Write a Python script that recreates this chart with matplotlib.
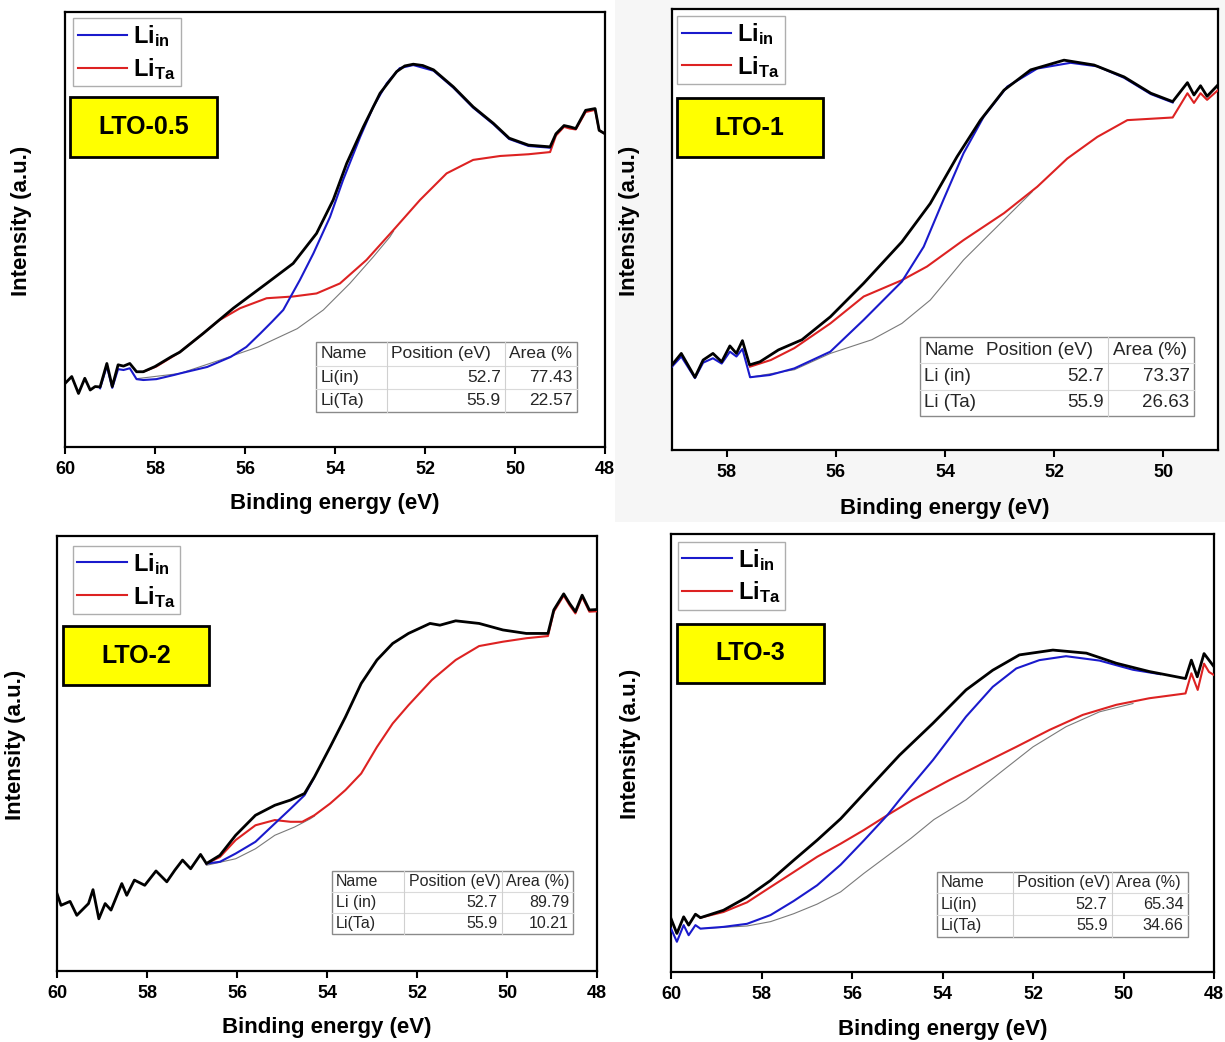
import matplotlib
matplotlib.use("Agg")
import matplotlib.pyplot as plt
from matplotlib.patches import Rectangle
from matplotlib.lines import Line2D

plt.rcParams['font.family'] = ['Liberation Sans', 'DejaVu Sans']
plt.rcParams['mathtext.fontset'] = 'custom'
plt.rcParams['mathtext.rm'] = 'Liberation Sans'
plt.rcParams['mathtext.bf'] = 'Liberation Sans:bold'
plt.rcParams['mathtext.it'] = 'Liberation Sans:italic'

# ---- LTO-0.5 ----
lto05_env_x = [60.00, 59.85, 59.70, 59.56, 59.44, 59.33, 59.22, 59.07, 58.95, 58.82, 58.70, 58.56, 58.41, 58.26,
               58.00, 57.63, 57.45, 56.93, 56.26, 55.52, 54.93, 54.41, 54.04, 53.74, 53.37, 53.00, 52.63, 52.45,
               52.26, 52.05, 51.81, 51.37, 50.93, 50.48, 50.13, 49.70, 49.22, 49.09, 48.91, 48.78, 48.65, 48.43,
               48.22, 48.13, 48.00]
lto05_env_y = [14.6, 16.2, 12.3, 15.8, 13.1, 13.9, 13.8, 19.2, 13.9, 18.9, 18.6, 19.2, 17.3, 17.3,
               18.5, 20.8, 21.8, 26.1, 31.9, 37.6, 42.2, 49.1, 56.8, 65.2, 73.6, 81.3, 86.3, 87.6,
               88.0, 87.7, 86.7, 82.8, 78.2, 74.4, 71.0, 69.4, 69.0, 72.0, 73.9, 73.6, 73.2, 77.4,
               77.8, 72.8, 72.0]
lto05_in_x = [59.22, 59.07, 58.95, 58.82, 58.70, 58.56, 58.41, 58.26, 57.97, 57.56, 57.45, 56.84, 56.32, 55.97,
              55.66, 55.40, 55.15, 54.78, 54.48, 54.11, 53.82, 53.44, 53.15, 52.85, 52.56, 52.26, 51.81, 51.37,
              50.93, 50.48, 50.13, 49.70, 49.22]
lto05_in_y = [13.5, 18.6, 13.6, 17.9, 17.7, 18.1, 15.6, 15.4, 15.6, 16.6, 16.9, 18.4, 20.7, 23.0,
              26.1, 28.8, 31.5, 38.4, 44.5, 52.9, 61.4, 71.3, 78.2, 83.6, 87.1, 87.8, 86.5, 82.6,
              78.0, 74.2, 70.8, 69.2, 68.8]
lto05_ta_x = [58.26, 57.97, 57.45, 56.93, 56.58, 56.11, 55.52, 54.93, 54.41, 53.89, 53.30, 52.70, 52.11, 51.52,
              50.93, 50.33, 49.70, 49.22, 49.09, 48.91, 48.78, 48.65, 48.43, 48.22, 48.13, 48.00]
lto05_ta_y = [17.3, 18.5, 21.8, 26.1, 29.1, 31.9, 34.2, 34.6, 35.3, 37.6, 43.0, 49.9, 56.8, 62.9,
              66.0, 66.9, 67.3, 67.8, 71.6, 73.6, 73.2, 73.0, 77.0, 77.5, 72.8, 72.0]
lto05_bg_x = [58.41, 57.45, 56.58, 55.71, 54.84, 54.26, 53.67, 53.15, 52.78, 52.70]
lto05_bg_y = [15.7, 16.9, 19.9, 23.0, 27.2, 31.5, 37.6, 43.7, 48.3, 49.6]

# ---- LTO-1 ----
lto1_env_x = [59.00, 58.83, 58.58, 58.43, 58.25, 58.09, 57.94, 57.82, 57.71, 57.58, 57.39, 57.05, 56.62, 56.10,
              55.49, 54.79, 54.27, 53.78, 53.35, 52.92, 52.43, 51.82, 51.27, 50.72, 50.23, 49.83, 49.56, 49.44,
              49.32, 49.20, 49.00]
lto1_env_y = [19.3, 21.9, 16.5, 20.4, 21.9, 20.0, 23.6, 21.9, 24.8, 19.3, 20.0, 22.7, 25.0, 30.2,
              37.8, 47.2, 55.9, 66.5, 74.8, 81.6, 86.2, 88.4, 87.3, 84.6, 80.9, 79.0, 83.3, 80.5,
              82.6, 80.2, 82.8]
lto1_in_x = [59.00, 58.83, 58.58, 58.43, 58.25, 58.09, 57.94, 57.82, 57.71, 57.57, 57.21, 56.76, 56.10, 55.49,
             54.79, 54.39, 54.03, 53.66, 53.29, 52.86, 52.31, 51.70, 51.21, 50.72, 50.23, 49.83]
lto1_in_y = [18.9, 21.2, 16.3, 19.8, 20.8, 19.6, 22.3, 21.2, 22.9, 16.5, 17.0, 18.5, 22.3, 29.5,
             38.2, 46.1, 56.7, 67.3, 75.6, 82.4, 86.5, 87.8, 87.0, 84.4, 80.7, 78.8]
lto1_ta_x = [57.57, 57.19, 56.76, 56.10, 55.49, 54.79, 54.33, 53.66, 52.92, 52.31, 51.76, 51.21, 50.66, 49.83,
             49.56, 49.44, 49.32, 49.20, 49.00]
lto1_ta_y = [18.9, 20.4, 23.1, 28.7, 34.8, 38.5, 41.6, 47.6, 53.7, 59.7, 66.1, 71.0, 74.8, 75.4,
             80.9, 78.7, 80.9, 79.4, 81.6]
lto1_bg_x = [57.57, 56.76, 56.10, 55.34, 54.79, 54.27, 53.66, 52.92, 52.40]
lto1_bg_y = [16.5, 18.2, 21.9, 25.0, 28.7, 34.0, 43.1, 52.2, 58.6]

# ---- LTO-2 ----
lto2_env_x = [60.00, 59.91, 59.71, 59.56, 59.30, 59.20, 59.07, 58.93, 58.80, 58.56, 58.45, 58.28, 58.05, 57.80,
              57.56, 57.38, 57.21, 57.03, 56.81, 56.68, 56.38, 56.03, 55.59, 55.16, 54.81, 54.50, 54.28, 53.93,
              53.59, 53.24, 52.89, 52.54, 52.19, 51.71, 51.49, 51.14, 50.62, 50.09, 49.57, 49.09, 48.96, 48.74,
              48.61, 48.48, 48.33, 48.17, 48.00]
lto2_env_y = [17.8, 15.1, 16.0, 12.8, 15.5, 18.7, 12.0, 15.5, 14.0, 20.1, 17.4, 20.9, 19.7, 23.0,
              20.5, 23.2, 25.5, 23.5, 26.8, 24.7, 26.6, 31.2, 35.8, 38.1, 39.3, 40.8, 44.6, 51.5,
              58.4, 66.1, 71.5, 75.3, 77.6, 79.9, 79.5, 80.5, 79.9, 78.4, 77.6, 77.6, 83.0, 86.7,
              84.5, 82.6, 86.4, 83.0, 83.1]
lto2_in_x = [56.68, 56.38, 56.03, 55.59, 55.16, 54.81, 54.50, 54.30]
lto2_in_y = [24.7, 25.1, 27.0, 29.7, 33.9, 37.3, 40.4, 44.2]
lto2_ta_x = [56.68, 56.38, 56.03, 55.59, 55.16, 54.81, 54.55, 54.28, 53.93, 53.59, 53.24, 52.89, 52.54, 52.19,
             51.67, 51.14, 50.62, 50.09, 49.57, 49.09, 48.96, 48.74, 48.61, 48.48, 48.33, 48.17, 48.00]
lto2_ta_y = [24.7, 26.2, 30.1, 33.5, 34.7, 34.3, 34.3, 35.8, 38.5, 41.6, 45.4, 51.5, 56.9, 61.1,
             66.9, 71.5, 74.7, 75.7, 76.5, 77.0, 82.6, 86.3, 84.1, 82.2, 86.0, 82.6, 82.7]
lto2_bg_x = [56.68, 56.03, 55.59, 55.16, 54.72, 54.37, 54.28]
lto2_bg_y = [24.3, 25.8, 28.1, 31.2, 33.1, 35.0, 35.6]

# ---- LTO-3 ----
lto3_env_x = [60.00, 59.87, 59.72, 59.61, 59.46, 59.35, 58.84, 58.32, 57.80, 57.29, 56.77, 56.25, 55.74, 55.22,
              54.95, 54.21, 53.48, 52.89, 52.30, 51.56, 50.82, 50.16, 49.43, 48.63, 48.50, 48.37, 48.22, 48.11,
              48.00]
lto3_env_y = [12.2, 8.8, 12.6, 10.7, 13.2, 12.4, 14.1, 17.1, 20.9, 25.5, 30.1, 35.0, 40.7, 46.5,
              49.5, 56.8, 64.4, 68.9, 72.4, 73.5, 72.8, 70.5, 68.6, 67.0, 71.2, 67.4, 72.7, 71.2,
              69.7]
lto3_in_x = [60.00, 59.87, 59.72, 59.61, 59.46, 59.35, 58.84, 58.32, 57.80, 57.29, 56.77, 56.25, 55.74, 55.22,
             54.95, 54.21, 53.48, 52.89, 52.37, 51.86, 51.27, 50.53, 49.79, 49.19]
lto3_in_y = [9.9, 6.9, 10.7, 8.4, 10.7, 9.9, 10.3, 11.0, 13.0, 16.2, 19.8, 24.5, 30.0, 35.8,
             39.3, 48.4, 58.3, 65.1, 69.3, 71.2, 72.1, 71.1, 69.0, 68.0]
lto3_ta_x = [59.35, 58.84, 58.32, 57.80, 57.29, 56.77, 56.25, 55.74, 55.22, 54.66, 53.85, 53.11, 52.37, 51.63,
             50.90, 50.16, 49.43, 48.63, 48.50, 48.36, 48.22, 48.11, 48.00]
lto3_ta_y = [12.4, 13.7, 15.9, 19.4, 22.8, 26.3, 29.3, 32.4, 35.8, 39.3, 43.8, 47.6, 51.4, 55.3,
             58.7, 61.0, 62.5, 63.6, 68.2, 64.4, 70.4, 68.5, 67.8]
lto3_bg_x = [59.35, 58.32, 57.80, 57.29, 56.77, 56.25, 55.74, 55.22, 54.70, 54.19, 53.48, 52.74, 52.00, 51.27,
             50.53, 49.79]
lto3_bg_y = [9.9, 10.5, 11.5, 13.3, 15.5, 18.3, 22.5, 26.5, 30.5, 34.8, 39.3, 45.4, 51.4, 56.0,
             59.4, 61.3]

tick_full = [60, 58, 56, 54, 52, 50, 48]
tick_lto1 = [58, 56, 54, 52, 50]

table_header = ["Name", "Position (eV)", "Area (%)"]
lto05_table = [["Li(in)", "52.7", "77.43"], ["Li(Ta)", "55.9", "22.57"]]
lto1_table = [["Li (in)", "52.7", "73.37"], ["Li (Ta)", "55.9", "26.63"]]
lto2_table = [["Li (in)", "52.7", "89.79"], ["Li(Ta)", "55.9", "10.21"]]
lto3_table = [["Li(in)", "52.7", "65.34"], ["Li(Ta)", "55.9", "34.66"]]

BLUE = '#1a1acc'
RED = '#dd2222'


def px_axes(left, top, right, bottom):
    # pixel box of the reference image -> figure fraction
    return [left / 1225, 1 - bottom / 1042, (right - left) / 1225, (bottom - top) / 1042]


def draw_table(ax, box, cols, header, rows, fs, vlines, pos_left=None):
    left, right, bottom, top = box
    nrow = 1 + len(rows)
    h = (top - bottom) / nrow
    ax.add_patch(Rectangle((left, bottom), right - left, top - bottom, transform=ax.transAxes,
                           facecolor='white', edgecolor='#8a8a8a', lw=1.0, zorder=5))
    for i in range(1, nrow):
        ax.plot([left, right], [bottom + i * h, bottom + i * h], transform=ax.transAxes,
                color='#dadada', lw=0.8, zorder=6)
    for c, show in zip(cols, vlines):
        if show:
            ax.plot([c, c], [bottom, top], transform=ax.transAxes, color='#d0d0d0', lw=0.8, zorder=6)
    edges = [left] + list(cols) + [right]
    pad = 0.008
    for r, row in enumerate([header] + rows):
        yc = top - (r + 0.5) * h
        for j, txt in enumerate(row):
            if j == 0 or r == 0:
                x0 = edges[j] + pad
                if r == 0 and j == 1 and pos_left is not None:
                    x0 = pos_left
                ax.text(x0, yc, txt, transform=ax.transAxes, ha='left', va='center',
                        fontsize=fs, color='#262626', zorder=7)
            else:
                ax.text(edges[j + 1] - pad, yc, txt, transform=ax.transAxes, ha='right', va='center',
                        fontsize=fs, color='#262626', zorder=7)


def draw_panel(ax, env, comp_in, comp_ta, bg, xlim, ticks, name, name_box, leg_anchor,
               tab_box, tab_cols, tab_rows, tab_fs, tab_vlines, header, ylab_x, xlab_y, pos_left=None):
    ax.plot(bg[0], bg[1], color='#7a7a7a', lw=0.8, zorder=2)
    ax.plot(comp_ta[0], comp_ta[1], color=RED, lw=1.5, zorder=3)
    ax.plot(comp_in[0], comp_in[1], color=BLUE, lw=1.5, zorder=3)
    ax.plot(env[0], env[1], color='black', lw=2.0, zorder=4)
    ax.set_xlim(*xlim)
    ax.set_ylim(0, 100)
    ax.set_yticks([])
    ax.set_xticks(ticks, labels=[str(t) for t in ticks], fontweight='bold', fontsize=13)
    ax.tick_params(axis='x', direction='out', length=5, width=1.5, pad=5)
    for s in ax.spines.values():
        s.set_linewidth(1.6)
    ax.set_xlabel("Binding energy (eV)", fontsize=16, fontweight='bold')
    ax.set_ylabel("Intensity (a.u.)", fontsize=16, fontweight='bold')
    ax.xaxis.label.set_va('center')
    ax.yaxis.label.set_va('center')
    ax.xaxis.set_label_coords(0.5, xlab_y)
    ax.yaxis.set_label_coords(ylab_x, 0.52)

    handles = [Line2D([], [], color=BLUE, lw=1.5), Line2D([], [], color=RED, lw=1.5)]
    leg = ax.legend(handles, [r'$\mathbf{Li}_{\mathbf{in}}$', r'$\mathbf{Li}_{\mathbf{Ta}}$'],
                    loc='upper left', bbox_to_anchor=leg_anchor, borderaxespad=0, fontsize=17,
                    fancybox=False, edgecolor='#9a9a9a', handlelength=2.1, handletextpad=0.25,
                    borderpad=0.2, labelspacing=0.3)
    leg.get_frame().set_linewidth(1.0)

    x0, y0, w, h = name_box
    ax.add_patch(Rectangle((x0, y0), w, h, transform=ax.transAxes, facecolor='#ffff00',
                           edgecolor='black', lw=2.0, zorder=8))
    ax.text(x0 + w / 2, y0 + h / 2, name, transform=ax.transAxes, ha='center', va='center',
            fontsize=18, fontweight='bold', zorder=9)

    draw_table(ax, tab_box, tab_cols, header, tab_rows, tab_fs, tab_vlines, pos_left)


fig = plt.figure(figsize=(12.25, 10.42), dpi=100)
fig.patches.append(Rectangle((615 / 1225, 1 - 522 / 1042), 1 - 615 / 1225, 522 / 1042,
                             transform=fig.transFigure, facecolor='#f6f6f6', edgecolor='none', zorder=-5))

ax1 = fig.add_axes(px_axes(65, 12, 605, 447))
draw_panel(ax1, (lto05_env_x, lto05_env_y), (lto05_in_x, lto05_in_y), (lto05_ta_x, lto05_ta_y),
           (lto05_bg_x, lto05_bg_y), (60, 48), tick_full, "LTO-0.5", (0.009, 0.667, 0.272, 0.138),
           (0.015, 0.986), (0.465, 0.948, 0.080, 0.241), (0.596, 0.815), lto05_table, 12.5, (True, True),
           ["Name", "Position (eV)", "Area (%"], -0.08, -0.129)

ax2 = fig.add_axes(px_axes(672, 9, 1218, 450))
ax2.set_facecolor('white')
draw_panel(ax2, (lto1_env_x, lto1_env_y), (lto1_in_x, lto1_in_y), (lto1_ta_x, lto1_ta_y),
           (lto1_bg_x, lto1_bg_y), (59, 49), tick_lto1, "LTO-1", (0.009, 0.664, 0.267, 0.134),
           (0.009, 0.984), (0.454, 0.956, 0.077, 0.256), (0.576, 0.799), lto1_table, 13.5, (False, True),
           table_header, -0.077, -0.132, pos_left=0.576)

ax3 = fig.add_axes(px_axes(57, 536, 597, 971))
draw_panel(ax3, (lto2_env_x, lto2_env_y), (lto2_in_x, lto2_in_y), (lto2_ta_x, lto2_ta_y),
           (lto2_bg_x, lto2_bg_y), (60, 48), tick_full, "LTO-2", (0.011, 0.657, 0.270, 0.136),
           (0.029, 0.977), (0.509, 0.956, 0.085, 0.231), (0.643, 0.824), lto2_table, 11.5, (True, True),
           table_header, -0.077, -0.129)

ax4 = fig.add_axes(px_axes(671, 534, 1214, 972))
draw_panel(ax4, (lto3_env_x, lto3_env_y), (lto3_in_x, lto3_in_y), (lto3_ta_x, lto3_ta_y),
           (lto3_bg_x, lto3_bg_y), (60, 48), tick_full, "LTO-3", (0.011, 0.660, 0.271, 0.135),
           (0.012, 0.982), (0.489, 0.952, 0.081, 0.229), (0.629, 0.812), lto3_table, 11.7, (True, True),
           table_header, -0.074, -0.132)

fig.savefig("out.png", dpi=100)
